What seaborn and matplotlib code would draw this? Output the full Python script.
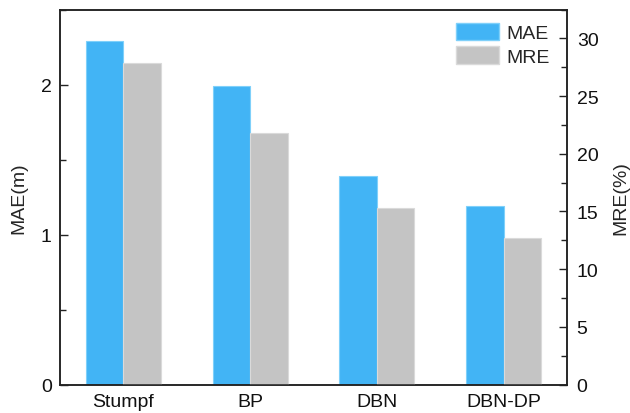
import matplotlib
matplotlib.use("Agg")
import matplotlib.pyplot as plt
from matplotlib.patches import Patch
from matplotlib.ticker import MultipleLocator
import numpy as np
import pandas as pd
import seaborn as sns

# Model comparison: mean absolute error (m) and mean relative error (%)
models = ["Stumpf", "BP", "DBN", "DBN-DP"]
mae_m = [2.29, 1.99, 1.39, 1.19]
mre_pct = [27.9, 21.8, 15.3, 12.7]
metrics = ["MAE", "MRE"]

colors = {"MAE": "#42B4F5", "MRE": "#C4C4C4"}
edges = {"MAE": "#7FD0FA", "MRE": "#DADADA"}

sns.set_theme(style="ticks")
plt.rcParams["font.family"] = ["Liberation Sans", "DejaVu Sans"]
plt.rcParams["font.size"] = 14

nan = [np.nan] * len(models)
# Both axes share the same hue levels so the bars dodge side by side;
# each axis only carries values for its own metric.
left_df = pd.DataFrame({"model": models * 2, "metric": ["MAE"] * 4 + ["MRE"] * 4,
                        "value": mae_m + nan})
right_df = pd.DataFrame({"model": models * 2, "metric": ["MAE"] * 4 + ["MRE"] * 4,
                         "value": nan + mre_pct})

fig = plt.figure(figsize=(6.3, 4.14), dpi=100)
ax = fig.add_axes([0.0952, 0.0688, 0.8048, 0.9058])
ax2 = ax.twinx()

sns.barplot(data=left_df, x="model", y="value", hue="metric", hue_order=metrics,
            order=models, palette=colors, width=0.59, ax=ax, legend=False,
            edgecolor=edges["MAE"], linewidth=0.8, saturation=1, errorbar=None)
sns.barplot(data=right_df, x="model", y="value", hue="metric", hue_order=metrics,
            order=models, palette=colors, width=0.59, ax=ax2, legend=False,
            edgecolor=edges["MRE"], linewidth=0.8, saturation=1, errorbar=None)

ax.set_xlim(-0.5, 3.5)
ax.set_ylim(0, 2.5)
ax2.set_ylim(0, 32.5)

ax.yaxis.set_major_locator(MultipleLocator(1))
ax.yaxis.set_minor_locator(MultipleLocator(0.5))
ax2.yaxis.set_major_locator(MultipleLocator(5))
ax2.yaxis.set_minor_locator(MultipleLocator(2.5))

ax.set_xlabel("")
ax.set_ylabel("MAE(m)", fontsize=14, labelpad=10)
ax2.set_ylabel("MRE(%)", fontsize=14, labelpad=10)

for a in (ax, ax2):
    for s in a.spines.values():
        s.set_visible(True)
        s.set_color("#222222")
        s.set_linewidth(1.1)

ax.tick_params(axis="y", which="major", direction="in", length=6, width=1.0,
               pad=6, labelsize=14, colors="#222222", labelcolor="#111111")
ax.tick_params(axis="y", which="minor", direction="in", length=4, width=1.0,
               colors="#222222")
ax.tick_params(axis="x", length=0, pad=6, labelsize=14, labelcolor="#111111")
ax2.tick_params(axis="y", which="major", direction="in", length=6, width=1.0,
                pad=7, labelsize=14, colors="#222222", labelcolor="#111111")
ax2.tick_params(axis="y", which="minor", direction="in", length=4, width=1.0,
                colors="#222222")

handles = [Patch(facecolor=colors[m], edgecolor=edges[m], label=m) for m in metrics]
ax2.legend(handles=handles, loc="upper left", bbox_to_anchor=(0.782, 0.965),
           frameon=False, fontsize=14, handlelength=2.2, handleheight=1.03,
           handletextpad=0.35, labelspacing=0.2, borderaxespad=0, borderpad=0)

fig.savefig("out.png", dpi=100)
